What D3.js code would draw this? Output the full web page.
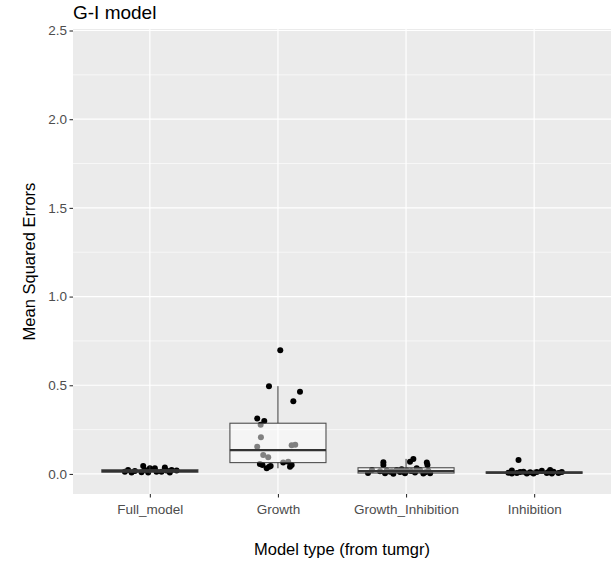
<!DOCTYPE html>
<html>
<head>
<meta charset="utf-8">
<script src="https://cdn.jsdelivr.net/npm/d3@7"></script>
<style>
  body { margin: 0; background: #fff; }
  svg { display: block; font-family: "Liberation Sans", Arial, sans-serif; }
</style>
</head>
<body>
<svg id="chart" width="613" height="562"></svg>
<script>
// categories on the x axis
const categories = ["Full_model", "Growth", "Growth_Inhibition", "Inhibition"];

// boxplot stats (per category)
const whiskerLo = [0.002, 0.032, 0.001, 0.001];
const q1 = [0.010, 0.064, 0.005, 0.004];
const median = [0.016, 0.134, 0.016, 0.008];
const q3 = [0.024, 0.286, 0.035, 0.012];
const whiskerHi = [0.045, 0.495, 0.085, 0.025];

// jittered points: value and horizontal offset (in category units)
const fullVals = [0.013, 0.023, 0.017, 0.045, 0.023, 0.032, 0.032, 0.013, 0.036, 0.020, 0.023, 0.019, 0.010, 0.013, 0.008, 0.008, 0.008];
const fullOff = [-0.195, -0.170, -0.117, -0.052, -0.039, 0, 0.039, 0.052, 0.117, 0.130, 0.170, 0.209, -0.065, 0.091, -0.013, -0.143, 0.156];

const growthVals = [0.698, 0.495, 0.463, 0.410, 0.312, 0.299, 0.277, 0.207, 0.154, 0.162, 0.164, 0.107, 0.094, 0.056, 0.032, 0.045, 0.064, 0.069, 0.041, 0.051, 0.041, 0.050];
const growthOff = [0.018, -0.070, 0.172, 0.120, -0.162, -0.107, -0.135, -0.133, -0.162, 0.107, 0.135, -0.115, -0.076, -0.141, -0.088, -0.057, 0.041, 0.080, 0.094, 0.107, -0.068, -0.121];

const giVals = [0.066, 0.051, 0.085, 0.069, 0.064, 0.051, 0.013, 0.023, 0.026, 0.020, 0.023, 0.004, 0.004, 0.001, 0.004, 0.008, 0.002, 0.011, 0.018, 0.020, 0.032, 0.015, 0.023, 0.006, 0.012, 0.017, 0.009, 0.014];
const giOff = [-0.177, -0.177, 0.057, 0.031, 0.162, 0.167, -0.125, -0.073, -0.034, 0.005, 0.109, 0.188, -0.164, -0.099, -0.008, 0.070, 0.135, -0.047, 0.174, -0.151, 0.083, -0.203, -0.266, -0.297, -0.020, 0.040, 0.150, -0.110];

const inhVals = [0.079, 0.007, 0.019, 0.006, 0.012, 0.009, 0.011, 0.018, 0.006, 0.023, 0.012, 0.006, 0.011, 0.002, 0.002, 0.002, 0.011, 0.002, 0.011];
const inhOff = [-0.122, -0.201, -0.174, -0.135, -0.083, -0.031, 0.021, 0.060, 0.099, 0.125, 0.151, 0.190, 0.216, -0.057, -0.005, -0.174, 0.112, 0.138, -0.109];

const yTicks = [0, 0.5, 1.0, 1.5, 2.0, 2.5];
const yMinor = [0.25, 0.75, 1.25, 1.75, 2.25];

const pointVals = [fullVals, growthVals, giVals, inhVals];
const pointOffs = [fullOff, growthOff, giOff, inhOff];

const svg = d3.select("#chart");
const panel = { left: 73, right: 611, top: 29, bottom: 494 };

// discrete x with ggplot's 0.6 expansion on each side
const x = d3.scalePoint()
  .domain(categories)
  .range([panel.left, panel.right])
  .padding(0.6);
const step = x.step();

const y = d3.scaleLinear()
  .domain([-0.113, 2.5085])
  .range([panel.bottom, panel.top]);

// panel background + grid
svg.append("rect")
  .attr("x", panel.left).attr("y", panel.top)
  .attr("width", panel.right - panel.left).attr("height", panel.bottom - panel.top)
  .attr("fill", "#ebebeb");

svg.selectAll(".minor").data(yMinor).enter().append("line")
  .attr("x1", panel.left).attr("x2", panel.right)
  .attr("y1", d => y(d)).attr("y2", d => y(d))
  .attr("stroke", "#fff").attr("stroke-width", 0.6);

svg.selectAll(".major").data(yTicks).enter().append("line")
  .attr("x1", panel.left).attr("x2", panel.right)
  .attr("y1", d => y(d)).attr("y2", d => y(d))
  .attr("stroke", "#fff").attr("stroke-width", 1.2);

svg.selectAll(".vmajor").data(categories).enter().append("line")
  .attr("x1", d => x(d)).attr("x2", d => x(d))
  .attr("y1", panel.top).attr("y2", panel.bottom)
  .attr("stroke", "#fff").attr("stroke-width", 1.2);

// jittered points, drawn first so the boxes lie over them
categories.forEach((cat, i) => {
  svg.append("g").selectAll("circle")
    .data(pointVals[i])
    .enter().append("circle")
    .attr("cx", (d, j) => x(cat) + pointOffs[i][j] * step)
    .attr("cy", d => y(d))
    .attr("r", 3)
    .attr("fill", "#000");
});

// boxplots
const boxW = 0.75 * step;
categories.forEach((cat, i) => {
  let cx = x(cat);
  let g = svg.append("g");
  g.append("line")
    .attr("x1", cx).attr("x2", cx)
    .attr("y1", y(q3[i])).attr("y2", y(whiskerHi[i]))
    .attr("stroke", "#333").attr("stroke-width", 1);
  g.append("line")
    .attr("x1", cx).attr("x2", cx)
    .attr("y1", y(q1[i])).attr("y2", y(whiskerLo[i]))
    .attr("stroke", "#333").attr("stroke-width", 1);
  g.append("rect")
    .attr("x", cx - boxW / 2).attr("width", boxW)
    .attr("y", y(q3[i])).attr("height", y(q1[i]) - y(q3[i]))
    .attr("fill", "#fff").attr("fill-opacity", 0.5)
    .attr("stroke", "#333").attr("stroke-opacity", 0.85).attr("stroke-width", 1.1);
  g.append("line")
    .attr("x1", cx - boxW / 2).attr("x2", cx + boxW / 2)
    .attr("y1", y(median[i])).attr("y2", y(median[i]))
    .attr("stroke", "#333").attr("stroke-width", 2.3);
});

// axes
const yAxis = svg.append("g")
  .attr("transform", `translate(${panel.left},0)`)
  .call(d3.axisLeft(y).tickValues(yTicks).tickFormat(d3.format(".1f")).tickSize(3.5).tickPadding(2.5));
const xAxis = svg.append("g")
  .attr("transform", `translate(0,${panel.bottom})`)
  .call(d3.axisBottom(x).tickSize(3.5).tickPadding(7));

[yAxis, xAxis].forEach(a => {
  a.select(".domain").remove();
  a.selectAll(".tick line").attr("stroke", "#333").attr("stroke-width", 1.1);
  a.selectAll(".tick text")
    .attr("fill", "#4d4d4d")
    .style("font-size", "13.5px")
    .style("font-family", "'Liberation Sans', Arial, sans-serif");
});

// titles
svg.append("text")
  .attr("x", panel.left).attr("y", 19)
  .style("font-size", "19px")
  .attr("fill", "#000")
  .text("G-I model");

svg.append("text")
  .attr("x", (panel.left + panel.right) / 2).attr("y", 555)
  .attr("text-anchor", "middle")
  .style("font-size", "16.5px")
  .attr("fill", "#000")
  .text("Model type (from tumgr)");

svg.append("text")
  .attr("transform", `translate(35,${(panel.top + panel.bottom) / 2}) rotate(-90)`)
  .attr("text-anchor", "middle")
  .style("font-size", "16.5px")
  .attr("fill", "#000")
  .text("Mean Squared Errors");
</script>
</body>
</html>
